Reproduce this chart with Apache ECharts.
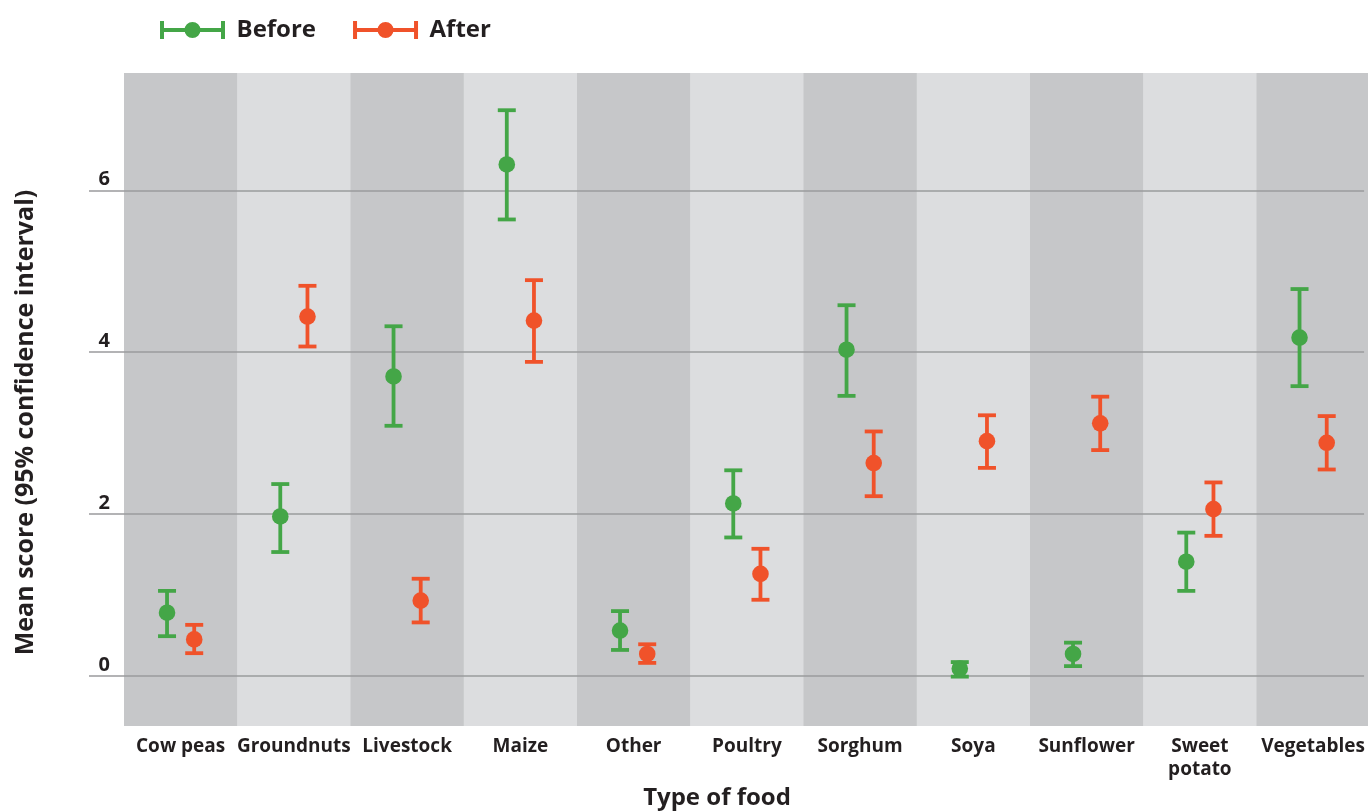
<!DOCTYPE html>
<html>
<head>
<meta charset="utf-8">
<script src="https://cdn.jsdelivr.net/npm/echarts@6/dist/echarts.min.js"></script>
<style>
html,body{margin:0;padding:0;background:#fff;overflow:hidden;}
#c{width:1368px;height:811px;}
</style>
</head>
<body>
<div id="c"></div>
<script>
var categories = ['Cow peas','Groundnuts','Livestock','Maize','Other','Poultry','Sorghum','Soya','Sunflower','Sweet\npotato','Vegetables'];
var beforeMean = [0.78, 1.97, 3.70, 6.32, 0.56, 2.13, 4.03, 0.09, 0.27, 1.41, 4.18];
var beforeLow  = [0.49, 1.53, 3.09, 5.64, 0.32, 1.71, 3.46, -0.01, 0.12, 1.05, 3.58];
var beforeHigh = [1.05, 2.37, 4.32, 6.99, 0.80, 2.54, 4.58, 0.17, 0.41, 1.77, 4.78];
var afterMean  = [0.45, 4.44, 0.93, 4.39, 0.27, 1.26, 2.63, 2.90, 3.12, 2.06, 2.88];
var afterLow   = [0.28, 4.07, 0.66, 3.88, 0.16, 0.94, 2.22, 2.57, 2.79, 1.73, 2.55];
var afterHigh  = [0.63, 4.82, 1.20, 4.89, 0.39, 1.57, 3.02, 3.22, 3.45, 2.39, 3.21];
var yTicks = [0, 2, 4, 6];

var GREEN = '#44a647';
var ORANGE = '#f0522a';
var TEXT = '#231f20';
var FONT = 'Open Sans';

var legendIcon = 'path://M0,0h4v7h57v-7h4v18h-4v-7h-57v7h-4z M24.5,9a8,8 0 1,1 16,0a8,8 0 1,1 -16,0z';

var catIndex = categories.map(function (c, i) { return i; });

function buildErr(mean, low, high) {
  return mean.map(function (m, i) { return [i, m, low[i], high[i]]; });
}

function errRender(offsetSign) {
  return function (params, api) {
    var idx = api.value(0);
    var bw = api.size([1, 0])[0];
    var off = offsetSign * bw * 0.12;
    var pm = api.coord([idx, api.value(1)]);
    var pl = api.coord([idx, api.value(2)]);
    var ph = api.coord([idx, api.value(3)]);
    var x = pm[0] + off;
    var color = api.visual('color');
    var capW = 9;
    var lw = 3.8;
    return {
      type: 'group',
      children: [
        {type: 'line', shape: {x1: x, y1: ph[1], x2: x, y2: pl[1]}, style: {stroke: color, lineWidth: lw}},
        {type: 'line', shape: {x1: x - capW, y1: ph[1], x2: x + capW, y2: ph[1]}, style: {stroke: color, lineWidth: lw}},
        {type: 'line', shape: {x1: x - capW, y1: pl[1], x2: x + capW, y2: pl[1]}, style: {stroke: color, lineWidth: lw}},
        {type: 'circle', shape: {cx: x, cy: pm[1], r: 8.3}, style: {fill: color}}
      ]
    };
  };
}

var bandData = catIndex.map(function (i) { return [i]; });

var chart = echarts.init(document.getElementById('c'), null, {renderer: 'canvas', width: 1368, height: 811});
chart.setOption({
  animation: false,
  backgroundColor: '#ffffff',
  textStyle: {fontFamily: FONT},
  legend: {
    left: 155,
    top: 13,
    itemWidth: 66,
    itemHeight: 18,
    itemGap: 37,
    textStyle: {fontFamily: FONT, fontWeight: 'bold', fontSize: 24, color: TEXT, padding: [0, 0, 0, 6]},
    data: [
      {name: 'Before', icon: legendIcon, itemStyle: {color: GREEN}},
      {name: 'After', icon: legendIcon, itemStyle: {color: ORANGE}}
    ]
  },
  title: {
    text: 'Type of food',
    left: 712,
    top: 781,
    textAlign: 'center',
    textStyle: {fontFamily: FONT, fontWeight: 'bold', fontSize: 24, color: TEXT}
  },
  grid: {left: 124, right: 0, top: 73, bottom: 85, containLabel: false},
  xAxis: {
    type: 'value',
    min: -0.5,
    max: 10.45,
    axisLine: {show: false, onZero: false},
    axisTick: {show: false},
    splitLine: {show: false},
    axisLabel: {
      customValues: catIndex,
      formatter: function (v) { return categories[Math.round(v)]; },
      margin: 9,
      fontFamily: FONT,
      fontWeight: 'bold',
      fontSize: 19,
      lineHeight: 23,
      color: TEXT
    }
  },
  yAxis: {
    type: 'value',
    position: 'left',
    min: -0.62,
    max: 7.45,
    z: 3,
    name: 'Mean score (95% confidence interval)',
    nameLocation: 'middle',
    nameGap: 86,
    nameTextStyle: {fontFamily: FONT, fontWeight: 'bold', fontSize: 25, color: TEXT, padding: [0, 0, 0, -46]},
    axisLine: {show: false, onZero: false},
    axisTick: {show: true, length: 35, customValues: yTicks, lineStyle: {color: '#9a9b9d', width: 1.5}},
    axisLabel: {
      customValues: yTicks,
      margin: 14,
      fontFamily: FONT,
      fontWeight: 'bold',
      fontSize: 20,
      color: TEXT,
      verticalAlign: 'bottom',
      padding: [0, 0, 1, 0]
    },
    splitLine: {show: true, lineStyle: {color: '#9a9b9d', width: 1.5}}
  },
  series: [
    {
      name: 'bands',
      type: 'custom',
      z: 1,
      silent: true,
      clip: false,
      data: bandData,
      encode: {x: 0},
      renderItem: function (params, api) {
        var idx = api.value(0);
        var bw = api.size([1, 0])[0];
        var c = api.coord([idx, 0]);
        var cs = params.coordSys;
        return {
          type: 'rect',
          shape: {x: c[0] - bw / 2, y: cs.y, width: bw + 0.5, height: cs.height},
          style: {fill: idx % 2 === 0 ? '#c6c7c9' : '#dcdddf'}
        };
      }
    },
    {
      name: 'Before',
      type: 'custom',
      z: 5,
      itemStyle: {color: GREEN},
      data: buildErr(beforeMean, beforeLow, beforeHigh),
      encode: {x: 0, y: [1, 2, 3]},
      renderItem: errRender(-1)
    },
    {
      name: 'After',
      type: 'custom',
      z: 5,
      itemStyle: {color: ORANGE},
      data: buildErr(afterMean, afterLow, afterHigh),
      encode: {x: 0, y: [1, 2, 3]},
      renderItem: errRender(1)
    }
  ]
});
</script>
</body>
</html>
